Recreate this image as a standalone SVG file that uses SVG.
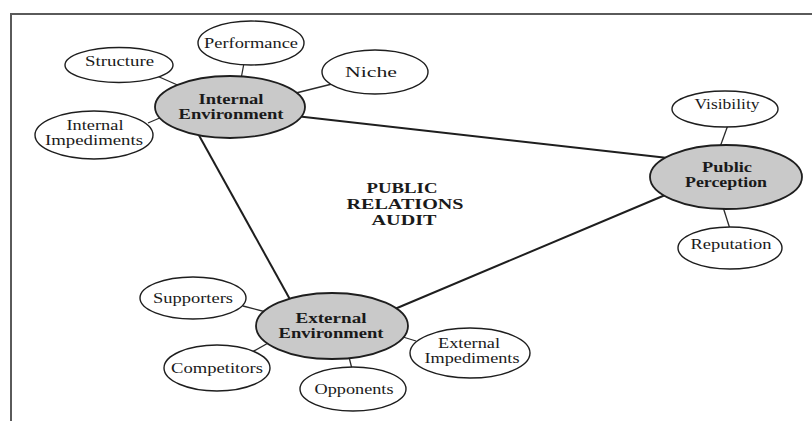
<svg xmlns="http://www.w3.org/2000/svg" width="812" height="421" viewBox="0 0 812 421">
<style>
.bg{fill:#fff}
.frame{stroke:#5a5a5a;stroke-width:2;fill:none}
.main{stroke:#1e1e1e;stroke-width:2;fill:none}
.sub{stroke:#2a2a2a;stroke-width:1.3;fill:none}
.hub{fill:#c9c9c9;stroke:#1e1e1e;stroke-width:1.8}
.leaf{fill:#fff;stroke:#1e1e1e;stroke-width:1.4}
text{font-family:"Liberation Serif","Times New Roman",serif;fill:#1a1a1a;text-anchor:middle}
.t{font-size:15px}
.b{font-size:15px;font-weight:bold}
.title{font-size:14.5px;font-weight:bold}
</style>
<rect class="bg" x="0" y="0" width="812" height="421"/>
<path class="frame" d="M11,421 V14 H812"/>
<g id="connectors">
<line class="main" x1="300" y1="116.5" x2="668" y2="158"/>
<line class="main" x1="196" y1="130" x2="292" y2="303"/>
<line class="main" x1="390" y1="311" x2="670" y2="193"/>
<line class="sub" x1="157" y1="76" x2="182" y2="87"/>
<line class="sub" x1="244" y1="63" x2="241" y2="79"/>
<line class="sub" x1="332" y1="84" x2="296" y2="93"/>
<line class="sub" x1="148" y1="123" x2="162" y2="117"/>
<line class="sub" x1="243" y1="306" x2="266" y2="312"/>
<line class="sub" x1="252" y1="352" x2="270" y2="342"/>
<line class="sub" x1="349" y1="357" x2="352" y2="369"/>
<line class="sub" x1="403" y1="337" x2="416" y2="341"/>
<line class="sub" x1="728" y1="125" x2="720" y2="147"/>
<line class="sub" x1="723" y1="207" x2="730" y2="229"/>
</g>
<g id="internal-environment">
<ellipse class="hub" cx="230" cy="107" rx="75" ry="31"/>
<text class="b" x="231" y="104" textLength="65" lengthAdjust="spacingAndGlyphs">Internal</text>
<text class="b" x="231" y="119" textLength="105" lengthAdjust="spacingAndGlyphs">Environment</text>
</g>
<g id="structure">
<ellipse class="leaf" cx="119" cy="65" rx="54" ry="17.5"/>
<text class="t" x="119.5" y="66" textLength="69" lengthAdjust="spacingAndGlyphs">Structure</text>
</g>
<g id="performance">
<ellipse class="leaf" cx="251" cy="43" rx="53" ry="22"/>
<text class="t" x="251" y="48" textLength="94" lengthAdjust="spacingAndGlyphs">Performance</text>
</g>
<g id="niche">
<ellipse class="leaf" cx="375" cy="72" rx="53" ry="22"/>
<text class="t" x="371" y="77" textLength="52" lengthAdjust="spacingAndGlyphs">Niche</text>
</g>
<g id="internal-impediments">
<ellipse class="leaf" cx="94" cy="135" rx="59" ry="24"/>
<text class="t" x="95" y="130" textLength="57" lengthAdjust="spacingAndGlyphs">Internal</text>
<text class="t" x="94" y="145" textLength="98" lengthAdjust="spacingAndGlyphs">Impediments</text>
</g>
<g id="public-perception">
<ellipse class="hub" cx="726" cy="177" rx="76" ry="32"/>
<text class="b" x="727" y="172" textLength="50" lengthAdjust="spacingAndGlyphs">Public</text>
<text class="b" x="726" y="187" textLength="82" lengthAdjust="spacingAndGlyphs">Perception</text>
</g>
<g id="visibility">
<ellipse class="leaf" cx="725" cy="109" rx="53" ry="18"/>
<text class="t" x="727" y="109" textLength="65" lengthAdjust="spacingAndGlyphs">Visibility</text>
</g>
<g id="reputation">
<ellipse class="leaf" cx="730" cy="248" rx="52" ry="21"/>
<text class="t" x="731" y="249" textLength="81" lengthAdjust="spacingAndGlyphs">Reputation</text>
</g>
<g id="external-environment">
<ellipse class="hub" cx="332" cy="326" rx="76" ry="33"/>
<text class="b" x="331" y="323" textLength="71" lengthAdjust="spacingAndGlyphs">External</text>
<text class="b" x="331" y="338" textLength="105" lengthAdjust="spacingAndGlyphs">Environment</text>
</g>
<g id="supporters">
<ellipse class="leaf" cx="193" cy="298" rx="53" ry="21"/>
<text class="t" x="193" y="303" textLength="80" lengthAdjust="spacingAndGlyphs">Supporters</text>
</g>
<g id="competitors">
<ellipse class="leaf" cx="217" cy="368" rx="53" ry="23"/>
<text class="t" x="217" y="373" textLength="92" lengthAdjust="spacingAndGlyphs">Competitors</text>
</g>
<g id="opponents">
<ellipse class="leaf" cx="353" cy="389" rx="53" ry="22"/>
<text class="t" x="354" y="394" textLength="79" lengthAdjust="spacingAndGlyphs">Opponents</text>
</g>
<g id="external-impediments">
<ellipse class="leaf" cx="470" cy="353" rx="60" ry="25"/>
<text class="t" x="469" y="348" textLength="62" lengthAdjust="spacingAndGlyphs">External</text>
<text class="t" x="472" y="363" textLength="95" lengthAdjust="spacingAndGlyphs">Impediments</text>
</g>
<g id="title">
<text class="title" x="402" y="193" textLength="71" lengthAdjust="spacingAndGlyphs">PUBLIC</text>
<text class="title" x="405" y="209" textLength="117" lengthAdjust="spacingAndGlyphs">RELATIONS</text>
<text class="title" x="404" y="225" textLength="65" lengthAdjust="spacingAndGlyphs">AUDIT</text>
</g>
</svg>
